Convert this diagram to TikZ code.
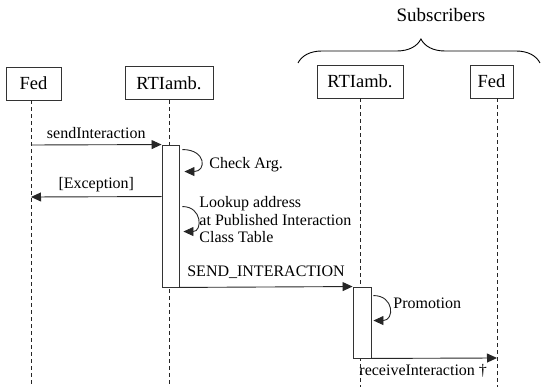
\documentclass[tikz,border=0pt]{standalone}
\usepackage{fontspec}
\setmainfont{Liberation Serif}
\usetikzlibrary{arrows.meta,decorations.pathreplacing,positioning}

\begin{document}
\begin{tikzpicture}[x=1pt,y=-1pt,line width=0.9pt]
\useasboundingbox (0,0) rectangle (542,387);

\tikzstyle{rect}=[rectangle,draw=black!80,minimum height=33pt,inner sep=0pt,font=\fontsize{18.5}{20}\selectfont]
\tikzstyle{act}=[rectangle,draw=black!80,fill=white,minimum width=17pt,inner sep=0pt]
\tikzstyle{life}=[draw=black!85,line width=0.7pt,dash pattern=on 4pt off 3pt]
\tikzstyle{msg}=[draw=black!85,-{Triangle[length=10pt,width=9pt]}]
\tikzstyle{lbl}=[font=\fontsize{16}{17.5}\selectfont,inner sep=0pt]

% objects
\node (feda) at (33.5,83.5) [rect,minimum width=55pt] {Fed};
\node (rtia) at (169,83) [rect,minimum width=88pt] {RTIamb.};
\node (rtib) at (360,81.5) [rect,minimum width=86pt] {RTIamb.};
\node (fedb) at (491.5,81.5) [rect,minimum width=43pt] {Fed};

\draw[decorate,decoration={brace,amplitude=24pt,aspect=0.508}] (298,63)--(540,63);
\node (subs) at (441,15) [lbl,font=\fontsize{19}{20}\selectfont] {Subscribers};

% lifelines
\coordinate (fedatop) at (31,100.5);
\coordinate (fedaend) at (31,387);
\coordinate (rtiaend) at (169,387);
\coordinate (rtibend) at (360,387);
\coordinate (fedbtop) at (497,98.5);
\coordinate (fedbend) at (497,387);
\draw[life] (fedatop)--(fedaend);
\draw[life] (rtia.south)--(rtiaend);
\draw[life] (rtib.south)--(rtibend);
\draw[life] (fedbtop)--(fedbend);

\node (acta) at (170.5,216) [act,minimum height=142pt] {};
\node (actb) at (362,322.5) [act,minimum width=18pt,minimum height=71pt] {};

% messages
\coordinate (send) at (31,145);
\coordinate (exc) at (31,197);
\coordinate (recv) at (497,358);
\draw[msg] (send)--(acta.north west) node[lbl,midway,above=6pt] {sendInteraction};
\draw[msg] ([yshift=-52pt]acta.north west)--(exc) node[lbl,midway,above=4pt] {[Exception]};
\draw[msg] (acta.south east)--(actb.north west) node[lbl,midway,above=8pt] {SEND\_INTERACTION};
\draw[msg] (actb.south east)--(recv);
\node (recvlbl) at (359,371) [lbl,anchor=west] {receiveInteraction †};

% self calls
\draw[msg] ([xshift=3pt,yshift=-5pt]acta.north east) .. controls +(24,0) and +(22,0) .. ([xshift=5pt,yshift=-27pt]acta.north east);
\node (check) at (209,165) [lbl,anchor=west] {Check Arg.};
\draw[msg] ([xshift=3pt,yshift=-62pt]acta.north east) .. controls +(20,0) and +(19,0) .. ([xshift=4pt,yshift=-87pt]acta.north east);
\node (lookup) at (199,196) [lbl,anchor=north west,align=left] {Lookup address\\at Published Interaction\\Class Table};
\draw[msg] ([xshift=2pt,yshift=-9pt]actb.north east) .. controls +(21,0) and +(21,0) .. ([xshift=2pt,yshift=-34pt]actb.north east);
\node (promo) at (393,303) [lbl,anchor=west] {Promotion};

\end{tikzpicture}
\end{document}
